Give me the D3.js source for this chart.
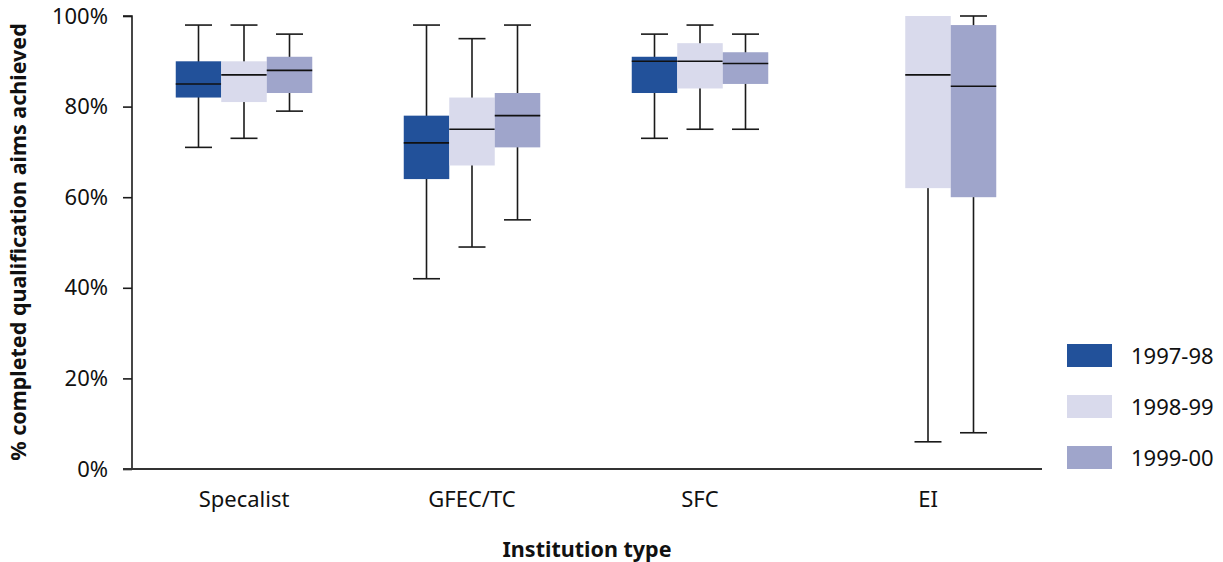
<!DOCTYPE html>
<html><head><meta charset="utf-8">
<script src="https://cdn.jsdelivr.net/npm/d3@7"></script>
<style>body{margin:0;background:#fff}svg{display:block}text{font-family:"Noto Sans","Open Sans",sans-serif;fill:#111}</style>
</head><body><svg id="c" width="1223" height="562"></svg>
<script>
const categories = ["Specalist", "GFEC/TC", "SFC", "EI"];
const seriesNames = ["1997-98", "1998-99", "1999-00"];
const seriesColors = ["#22519a", "#d9daec", "#9fa5cb"];
// each entry: [whiskerHigh, q3, median, q1, whiskerLow], null = no data
const s1997 = [[98,90,85,82,71],[98,78,72,64,42],[96,91,90,83,73],null];
const s1998 = [[98,90,87,81,73],[95,82,75,67,49],[98,94,90,84,75],[100,100,87,62,6]];
const s1999 = [[96,91,88,83,79],[98,83,78,71,55],[96,92,89.5,85,75],[100,98,84.5,60,8]];
const yTicks = [0,20,40,60,80,100];
const yTitle = "% completed qualification aims achieved";
const xTitle = "Institution type";

const series = [s1997, s1998, s1999];
const svg = d3.select("#c");
const x = d3.scaleBand().domain(categories).range([130,1042]);
const y = d3.scaleLinear().domain([0,100]).range([469,16]);
const boxW = 45.5;
const sx = d3.scaleBand().domain(seriesNames).range([0, boxW*3]);

const g = svg.append("g");
series.forEach((s, si) => {
  s.forEach((d, ci) => {
    if (!d) return;
    const cx = x(categories[ci]) + x.bandwidth()/2 - boxW*1.5 + sx(seriesNames[si]);
    const mid = cx + boxW/2;
    const [hi,q3,med,q1,lo] = d;
    const gg = g.append("g");
    gg.append("line").attr("x1",mid).attr("x2",mid).attr("y1",y(hi)).attr("y2",y(lo)).attr("stroke","#1a1a1a").attr("stroke-width",1.6);
    if (hi > q3) gg.append("line").attr("x1",mid-13.5).attr("x2",mid+13.5).attr("y1",y(hi)).attr("y2",y(hi)).attr("stroke","#1a1a1a").attr("stroke-width",1.6);
    gg.append("line").attr("x1",mid-13.5).attr("x2",mid+13.5).attr("y1",y(lo)).attr("y2",y(lo)).attr("stroke","#1a1a1a").attr("stroke-width",1.6);
    gg.append("rect").attr("x",cx).attr("width",boxW).attr("y",y(q3)).attr("height",y(q1)-y(q3)).attr("fill",seriesColors[si]);
    gg.append("line").attr("x1",cx).attr("x2",cx+boxW).attr("y1",y(med)).attr("y2",y(med)).attr("stroke","#111").attr("stroke-width",1.6);
  });
});

// y axis
const ya = svg.append("g").attr("transform","translate(132,0)")
  .call(d3.axisLeft(y).tickValues(yTicks).tickFormat(d=>d+"%").tickSize(9).tickPadding(15));
ya.select(".domain").attr("stroke","#1a1a1a").attr("stroke-width",1.6).attr("d","M-9,16H0V469");
ya.selectAll(".tick line").attr("stroke","#1a1a1a").attr("stroke-width",1.6);
ya.selectAll(".tick text").style("font-size","22px").attr("fill","#111");

// x axis
const xa = svg.append("g").attr("transform","translate(0,469)")
  .call(d3.axisBottom(x).tickSize(0).tickPadding(22));
xa.select(".domain").attr("stroke","#333").attr("stroke-width",2).attr("d","M123,0H1042");
xa.selectAll(".tick text").style("font-size","22px").attr("fill","#111");

svg.append("text").attr("x",587).attr("y",557).attr("text-anchor","middle")
  .style("font-size","21.5px").style("font-weight","bold").text(xTitle);
svg.append("text").attr("transform","translate(26,242) rotate(-90)").attr("text-anchor","middle")
  .style("font-size","21.5px").style("font-weight","bold").text(yTitle);

// legend
const lg = svg.append("g").attr("transform","translate(1067,344)");
seriesNames.forEach((n,i)=>{
  lg.append("rect").attr("x",0).attr("y",i*51).attr("width",45).attr("height",23).attr("fill",seriesColors[i]);
  lg.append("text").attr("x",64).attr("y",i*51+20).style("font-size","22px").text(n);
});
</script></body></html>
